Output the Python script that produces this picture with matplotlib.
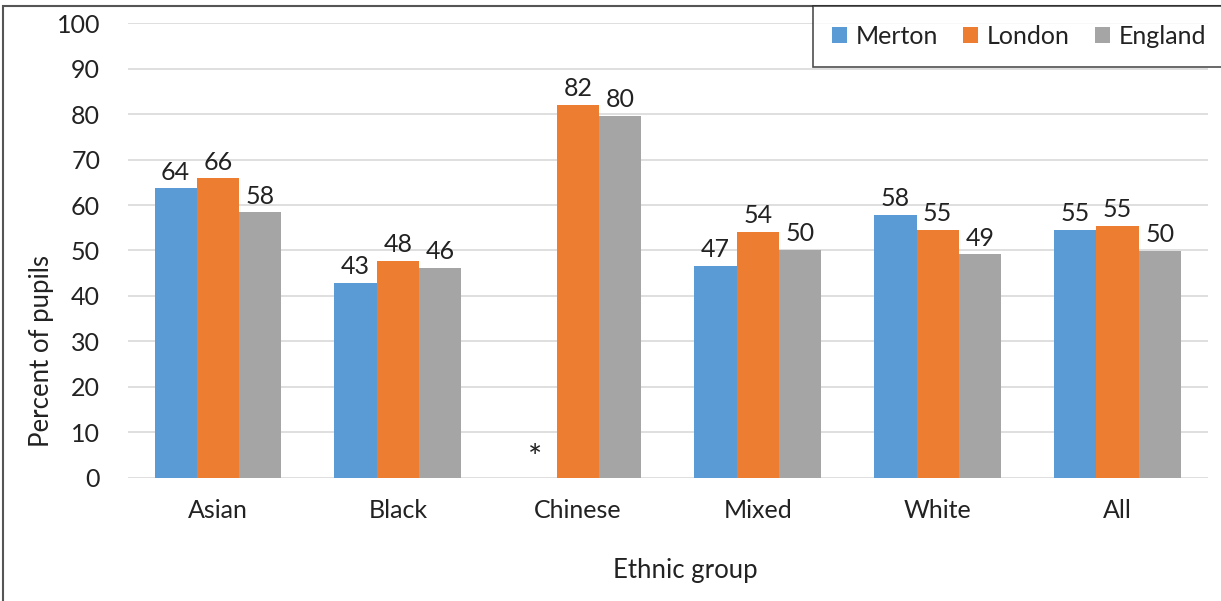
import numpy as np
import matplotlib.pyplot as plt
from matplotlib.patches import Rectangle

plt.rcParams['font.family'] = ['Lato', 'DejaVu Sans']

groups = ['Asian', 'Black', 'Chinese', 'Mixed', 'White', 'All']
merton = [63.7, 42.9, np.nan, 46.6, 57.8, 54.6]
london = [65.9, 47.7, 82.0, 54.1, 54.6, 55.4]
england = [58.4, 46.2, 79.6, 50.1, 49.2, 49.9]
series_names = ['Merton', 'London', 'England']
colors = ['#5b9bd5', '#ed7d31', '#a5a5a5']

fig = plt.figure(figsize=(12.21, 6.01), dpi=100)
ax = fig.add_axes([0.1048, 0.2047, 0.8842, 0.757])

x = np.arange(len(groups))
w = 0.235
for i, (vals, name, c) in enumerate(zip([merton, london, england], series_names, colors)):
    pos = x + (i - 1) * w
    ax.bar(pos, vals, width=w, color=c, label=name, zorder=3)
    for p, v in zip(pos, vals):
        if np.isnan(v):
            ax.text(p, 0.8, '*', ha='center', va='bottom', fontsize=24, color='#222222')
        else:
            ax.text(p, v + 1.0, f'{v:.0f}', ha='center', va='bottom', fontsize=18, color='#222222')

ax.set_xlim(-0.5, len(groups) - 0.5)
ax.set_ylim(0, 100)
ax.set_yticks(np.arange(0, 101, 10))
ax.set_xticks(x)
ax.set_xticklabels(groups)
ax.tick_params(axis='both', length=0, labelsize=18, labelcolor='#222222')
ax.tick_params(axis='y', pad=20)
ax.tick_params(axis='x', pad=15)
ax.grid(axis='y', color='#d9d9d9', linewidth=1.2, zorder=0)
for s in ax.spines.values():
    s.set_visible(False)

fig.text(0.034, 0.416, 'Percent of pupils', rotation=90, ha='center', va='center',
         fontsize=18.5, color='#222222')
fig.text(0.561, 0.05, 'Ethnic group', ha='center', va='center', fontsize=18.5, color='#222222')

leg = fig.legend(loc='upper left', bbox_to_anchor=(0.666, 0.99), ncol=3, fontsize=18,
                 frameon=True, fancybox=False, edgecolor='#222222', handlelength=0.6,
                 handleheight=0.6, handletextpad=0.35, columnspacing=1.0,
                 borderpad=0.75, borderaxespad=0)
leg.get_frame().set_linewidth(1.2)
for t in leg.get_texts():
    t.set_color('#222222')

fig.patches.append(Rectangle((0.0025, -0.1), 1.2, 1.09, transform=fig.transFigure,
                             fill=False, edgecolor='#555555', linewidth=1.5))

fig.savefig('out.png', dpi=100)
